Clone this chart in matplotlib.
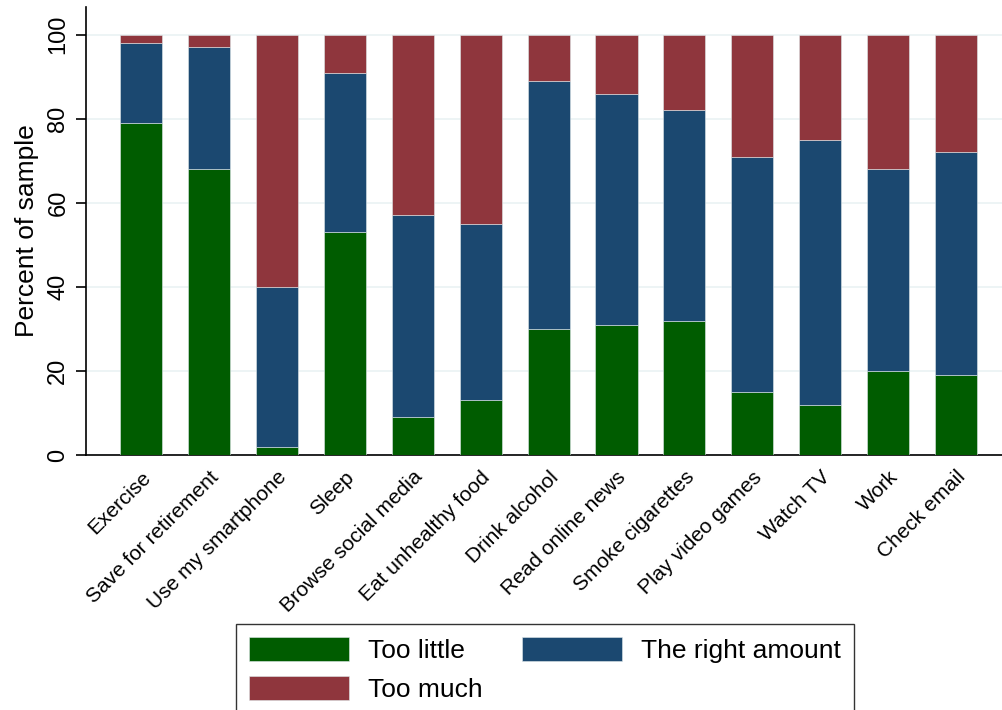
import matplotlib
matplotlib.use("Agg")
import matplotlib.pyplot as plt
import numpy as np

plt.rcParams['font.family'] = ['Liberation Sans', 'DejaVu Sans']

categories = ["Exercise", "Save for retirement", "Use my smartphone", "Sleep",
              "Browse social media", "Eat unhealthy food", "Drink alcohol",
              "Read online news", "Smoke cigarettes", "Play video games",
              "Watch TV", "Work", "Check email"]
too_little = [79, 68, 2, 53, 9, 13, 30, 31, 32, 15, 12, 20, 19]
right_amount = [19, 29, 38, 38, 48, 42, 59, 55, 50, 56, 63, 48, 53]
too_much = [2, 3, 60, 9, 43, 45, 11, 14, 18, 29, 25, 32, 28]
series_names = ["Too little", "The right amount", "Too much"]
colors = ["#005c00", "#1b4870", "#8f363d"]
yticks = [0, 20, 40, 60, 80, 100]

fig = plt.figure(figsize=(10.03, 7.10), dpi=100)
ax = fig.add_axes([86/1003, 1-455/710, 1-86/1003, (455-7)/710])

x = np.arange(len(categories))
w = 0.62
b1 = ax.bar(x, too_little, w, color=colors[0], edgecolor="#dfe8ea", linewidth=0.4, zorder=3)
b2 = ax.bar(x, right_amount, w, bottom=too_little, color=colors[1], edgecolor="#dfe8ea", linewidth=0.4, zorder=3)
bot3 = np.array(too_little) + np.array(right_amount)
b3 = ax.bar(x, too_much, w, bottom=bot3, color=colors[2], edgecolor="#dfe8ea", linewidth=0.4, zorder=3)

ax.set_xlim(-0.81, 12.69)
ax.set_ylim(0, 106.6)
ax.set_yticks(yticks)
ax.set_yticklabels([str(t) for t in yticks], rotation=90, va='center', fontsize=17)
ax.set_xticks(x)
ax.set_xticklabels(categories, rotation=45, ha='right', rotation_mode='anchor', fontsize=15)
ax.tick_params(axis='x', length=0, pad=9)
ax.tick_params(axis='y', length=7, width=1.2, direction='out', pad=5)
ax.set_ylabel("Percent of sample", fontsize=19, labelpad=6)
ax.grid(axis='y', color='#eaf2f3', linewidth=1.2, zorder=0)
ax.set_axisbelow(True)
for s in ['top', 'right']:
    ax.spines[s].set_visible(False)
ax.spines['left'].set_linewidth(1.2)
ax.spines['bottom'].set_linewidth(1.2)

# matplotlib fills legend columns first; order handles so rows read as in the reference
leg = fig.legend([b1, b3, b2], [series_names[0], series_names[2], series_names[1]],
                 ncol=2, loc='upper left',
                 bbox_to_anchor=(236/1003, 1-624/710), fontsize=19,
                 frameon=True, fancybox=False, edgecolor='black',
                 handlelength=3.8, handleheight=1.0, columnspacing=1.5,
                 handletextpad=0.7, labelspacing=0.5, borderpad=0.5,
                 borderaxespad=0)
leg.get_frame().set_linewidth(1.0)

fig.savefig("out.png", dpi=100)
